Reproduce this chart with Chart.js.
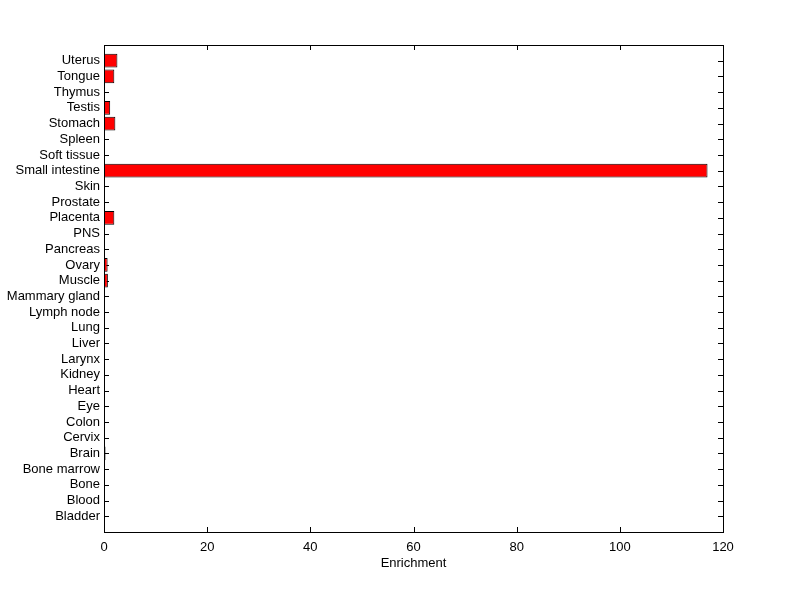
<!DOCTYPE html>
<html>
<head>
<meta charset="utf-8">
<script src="https://cdn.jsdelivr.net/npm/chart.js@4/dist/chart.umd.min.js"></script>
<style>
  html, body { margin: 0; padding: 0; background: #fff; }
  #c { display: block; }
</style>
</head>
<body>
<canvas id="c" width="800" height="599"></canvas>
<script>
// tissues, bottom to top (position 1 = Bladder ... 30 = Uterus)
const tissues = [
    "Bladder", "Blood", "Bone", "Bone marrow", "Brain", "Cervix", "Colon", "Eye",
    "Heart", "Kidney", "Larynx", "Liver", "Lung", "Lymph node", "Mammary gland",
    "Muscle", "Ovary", "Pancreas", "PNS", "Placenta", "Prostate", "Skin",
    "Small intestine", "Soft tissue", "Spleen", "Stomach", "Testis", "Thymus",
    "Tongue", "Uterus"
];
const enrichment = [
    0, 0, 0, 0, 0.3, 0, 0, 0,
    0, 0, 0, 0, 0.2, 0, 0,
    0.75, 0.7, 0, 0, 2.0, 0, 0,
    117, 0, 0, 2.2, 1.2, 0,
    2.0, 2.6
];
const xTicks = [0, 20, 40, 60, 80, 100, 120];

const FONT = { family: "'Liberation Sans', Arial, sans-serif", size: 13 };

// MATLAB-style inward tick marks (under the bars) and box (on top)
const boxTicks = {
    id: "boxTicks",
    beforeDatasetsDraw(chart) {
        const { ctx, chartArea: a, scales } = chart;
        const L = 5;
        ctx.save();
        ctx.strokeStyle = "#000";
        ctx.lineWidth = 1;
        ctx.beginPath();
        for (let i = 1; i <= tissues.length; i++) {
            const y = Math.round(scales.y.getPixelForValue(i)) + 0.5;
            ctx.moveTo(a.left, y); ctx.lineTo(a.left + L, y);
            ctx.moveTo(a.right, y); ctx.lineTo(a.right - L, y);
        }
        for (const v of xTicks) {
            const x = Math.round(scales.x.getPixelForValue(v)) + 0.5;
            ctx.moveTo(x, a.bottom); ctx.lineTo(x, a.bottom - L);
            ctx.moveTo(x, a.top); ctx.lineTo(x, a.top + L);
        }
        ctx.stroke();
        ctx.restore();
    },
    afterDraw(chart) {
        const { ctx, chartArea: a } = chart;
        ctx.save();
        ctx.strokeStyle = "#000";
        ctx.lineWidth = 1;
        ctx.strokeRect(Math.round(a.left) + 0.5, Math.round(a.top) + 0.5,
            Math.round(a.right - a.left), Math.round(a.bottom - a.top));
        ctx.restore();
    }
};

new Chart(document.getElementById("c"), {
    type: "bar",
    data: {
        datasets: [{
            data: tissues.map((t, i) => ({ x: enrichment[i], y: i + 1 })),
            backgroundColor: "#ff0000",
            borderColor: "#000",
            borderWidth: 1,
            borderSkipped: false,
            barPercentage: 0.88,
            categoryPercentage: 1.0
        }]
    },
    options: {
        indexAxis: "y",
        responsive: false,
        animation: false,
        layout: { padding: { left: 0, top: 45, right: 77, bottom: 0 } },
        plugins: { legend: { display: false }, tooltip: { enabled: false } },
        scales: {
            x: {
                type: "linear",
                min: 0, max: 120,
                offset: false,
                afterBuildTicks: (s) => { s.ticks = xTicks.map(v => ({ value: v })); },
                afterFit: (s) => { s.height = 67; },
                grid: { display: false, drawTicks: false },
                border: { display: false },
                ticks: { color: "#000", font: FONT, padding: 8, maxRotation: 0 },
                title: { display: true, text: "Enrichment", color: "#000", font: FONT, padding: { top: 0, bottom: 28 } }
            },
            y: {
                type: "linear",
                min: 0, max: tissues.length + 1,
                offset: false,
                afterBuildTicks: (s) => { s.ticks = tissues.map((t, i) => ({ value: i + 1 })); },
                afterFit: (s) => { s.width = 104; },
                grid: { display: false, drawTicks: false, offset: false },
                border: { display: false },
                ticks: {
                    color: "#000", font: FONT, padding: 4, autoSkip: false,
                    callback: (v) => tissues[v - 1] || ""
                }
            }
        }
    },
    plugins: [boxTicks]
});
</script>
</body>
</html>
